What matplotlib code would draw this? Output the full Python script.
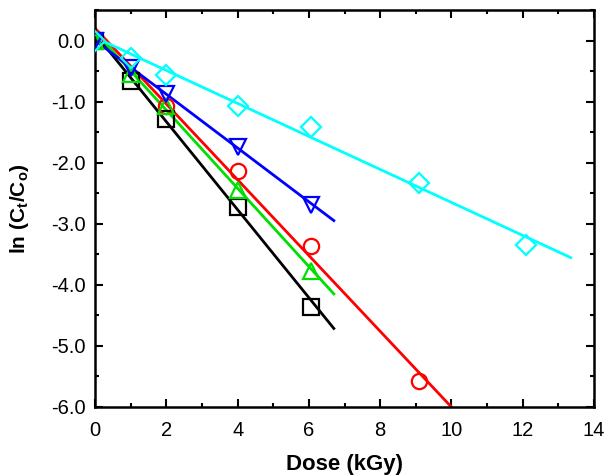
import matplotlib
matplotlib.use("Agg")
import matplotlib.pyplot as plt
import numpy as np
from matplotlib.ticker import MultipleLocator, FormatStrFormatter

plt.rcParams['font.family'] = ['Liberation Sans', 'DejaVu Sans']

# measured points
dose_sq = [0, 1, 2, 4, 6.05]
lnc_sq = [0.0, -0.66, -1.28, -2.73, -4.37]

dose_ci = [0, 2, 4, 6.05, 9.1]
lnc_ci = [0.0, -1.08, -2.13, -3.36, -5.58]

dose_tu = [0, 1, 2, 4, 6.05]
lnc_tu = [0.0, -0.55, -1.08, -2.45, -3.78]

dose_td = [0, 1, 2, 4, 6.05]
lnc_td = [0.0, -0.45, -0.88, -1.75, -2.7]

dose_di = [0, 1, 2, 4, 6.05, 9.1, 12.1]
lnc_di = [0.0, -0.28, -0.56, -1.07, -1.41, -2.34, -3.35]

# linear fits: (intercept, slope, x end)
fit_sq = (0.11, -0.72, 6.7)
fit_ci = (0.2, -0.62, 10.0)
fit_tu = (0.14, -0.64, 6.7)
fit_td = (0.0, -0.44, 6.7)
fit_di = (0.05, -0.27, 13.35)

series = [
    (dose_sq, lnc_sq, fit_sq, 'black', 's'),
    (dose_ci, lnc_ci, fit_ci, 'red', 'o'),
    (dose_tu, lnc_tu, fit_tu, '#00e000', '^'),
    (dose_td, lnc_td, fit_td, 'blue', 'v'),
    (dose_di, lnc_di, fit_di, 'cyan', 'D'),
]

fig = plt.figure(figsize=(6.06, 4.76), dpi=100)
ax = fig.add_axes([0.157, 0.145, 0.823, 0.834])

for xs, ys, fit, col, mk in series:
    b, m, xe = fit
    xl = np.array([0, xe])
    ax.plot(xl, b + m * xl, color=col, lw=2, zorder=2)
    ms = 10 if mk == 'D' else 11
    ax.plot(xs, ys, linestyle='none', marker=mk, ms=ms, mfc='none',
            mec=col, mew=1.6, zorder=3)

ax.set_xlim(0, 14)
ax.set_ylim(-6.0, 0.5)
ax.xaxis.set_major_locator(MultipleLocator(2))
ax.xaxis.set_minor_locator(MultipleLocator(1))
ax.yaxis.set_major_locator(MultipleLocator(1))
ax.yaxis.set_minor_locator(MultipleLocator(0.5))
ax.yaxis.set_major_formatter(FormatStrFormatter('%.1f'))
ax.tick_params(which='both', direction='in', top=True, right=True,
               labelsize=14.5, width=1.5)
ax.tick_params(which='major', length=6)
ax.tick_params(which='minor', length=3)
ax.tick_params(axis='x', pad=10)
ax.tick_params(axis='y', pad=7)
for s in ax.spines.values():
    s.set_linewidth(1.8)

ax.set_xlabel('Dose (kGy)', fontsize=16, fontweight='bold', labelpad=10)
ax.set_ylabel(r'ln (C$_\mathregular{t}$/C$_\mathregular{o}$)', fontsize=15,
              fontweight='bold', labelpad=14)

fig.savefig('out.png', dpi=100)
